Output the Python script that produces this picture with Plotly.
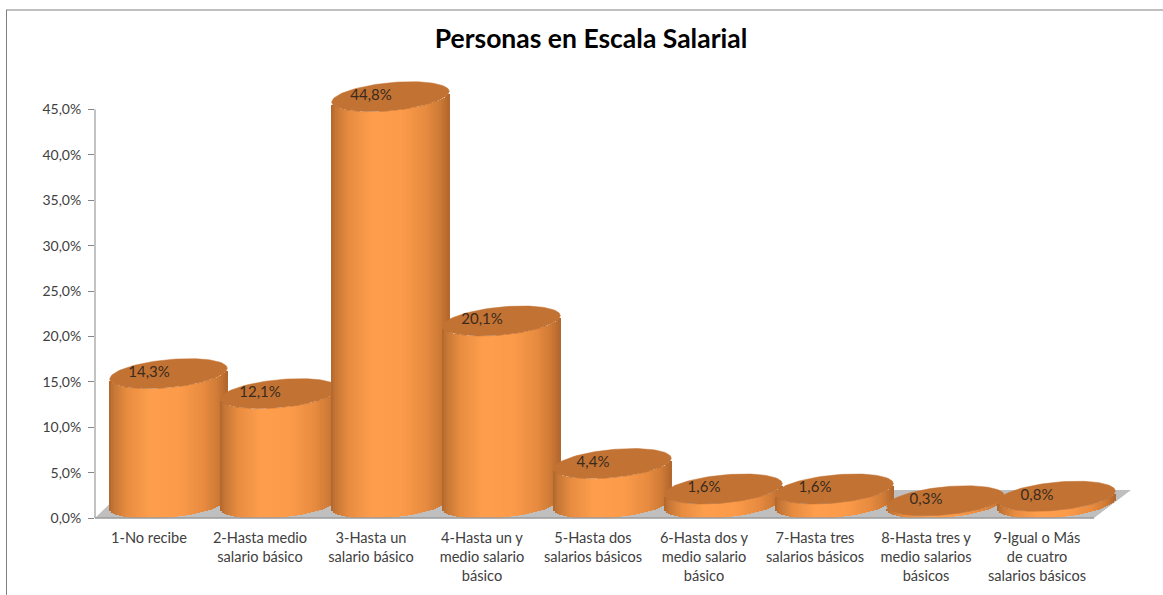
import numpy as np
import plotly.graph_objects as go

categories = [
    "1-No recibe",
    "2-Hasta medio<br>salario básico",
    "3-Hasta un<br>salario básico",
    "4-Hasta un y<br>medio salario<br>básico",
    "5-Hasta dos<br>salarios básicos",
    "6-Hasta dos y<br>medio salario<br>básico",
    "7-Hasta tres<br>salarios básicos",
    "8-Hasta tres y<br>medio salarios<br>básicos",
    "9-Igual o Más<br>de cuatro<br>salarios básicos",
]
values = [14.3, 12.1, 44.8, 20.1, 4.4, 1.6, 1.6, 0.3, 0.8]
y_ticks = [0, 5, 10, 15, 20, 25, 30, 35, 40, 45]
y_tick_labels = ["0,0%", "5,0%", "10,0%", "15,0%", "20,0%", "25,0%", "30,0%", "35,0%", "40,0%", "45,0%"]
title_text = "Personas en Escala Salarial"

W, H = 1163, 595
Y_MAX = 50.0
PX_Y = 409 / 45.0       # pixels per percent
L, R, B = 95, 1135, 518
T = B - Y_MAX * PX_Y
PX_X = 111.0            # pixels per category
FIRST_TICK = 149.0
x_range = [(L - FIRST_TICK) / PX_X, (R - FIRST_TICK) / PX_X]

DEPTH_X = 19.5 / PX_X
DEPTH_Y = 14.5 / PX_Y
A, E_B, TILT = 59.0, 14.0, np.radians(5.5)
c, s = np.cos(TILT), np.sin(TILT)
X_EXT = np.sqrt(A**2 * c**2 + E_B**2 * s**2)


def lower_edge(x):
    qa = s**2 / A**2 + c**2 / E_B**2
    qb = 2 * x * (c * s / A**2 - s * c / E_B**2)
    qc = x**2 * (c**2 / A**2 + s**2 / E_B**2) - 1
    return (-qb - np.sqrt(np.maximum(qb**2 - 4 * qa * qc, 0))) / (2 * qa)


STOPS_T = [-1.0, -0.93, -0.7, -0.3, 0.2, 0.6, 0.85, 1.0]
STOPS_R = [176, 196, 232, 255, 252, 232, 206, 178]
STOPS_G = [102, 118, 140, 159, 155, 140, 122, 102]
STOPS_B = [44, 54, 64, 77, 74, 64, 54, 44]


def shade(t):
    return "rgb(%d,%d,%d)" % (
        np.interp(t, STOPS_T, STOPS_R),
        np.interp(t, STOPS_T, STOPS_G),
        np.interp(t, STOPS_T, STOPS_B),
    )


fig = go.Figure()
N_STRIPS = 59
edges = np.linspace(-X_EXT, X_EXT, N_STRIPS + 1)
strip = edges[1] - edges[0]
mids = (edges[:-1] + edges[1:]) / 2
phi = np.linspace(0, 2 * np.pi, 121)
ex = A * np.cos(phi) * c - E_B * np.sin(phi) * s
ey = A * np.cos(phi) * s + E_B * np.sin(phi) * c

for i, v in enumerate(values):
    for m in mids:
        fig.add_trace(go.Bar(
            x=[i + DEPTH_X + m / PX_X],
            y=[v],
            base=[DEPTH_Y + lower_edge(m) / PX_Y],
            width=[strip * 1.5 / PX_X],
            marker=dict(color=shade(m / X_EXT), line=dict(width=0)),
            hoverinfo="skip",
            showlegend=False,
            zorder=i + 1,
        ))
    fig.add_trace(go.Scatter(
        x=i + DEPTH_X + ex / PX_X,
        y=v + DEPTH_Y + ey / PX_Y,
        mode="lines",
        fill="toself",
        fillcolor="#C27334",
        line=dict(color="#C27334", width=0.5),
        hoverinfo="skip",
        showlegend=False,
        zorder=i + 1,
    ))

fig.add_trace(go.Scatter(
    x=list(range(len(values))),
    y=[v + 1.65 for v in values],
    mode="text",
    text=[f"{v:.1f}%".replace(".", ",") for v in values],
    textposition="middle center",
    textfont=dict(family="Lato", size=15, color="#3a2a1c"),
    hoverinfo="skip",
    showlegend=False,
    zorder=30,
))


def px_x(p):
    return (p - FIRST_TICK) / PX_X


def px_y(p):
    return (B - p) / PX_Y


def paper_x(p):
    return (p - L) / (R - L)


def paper_y(p):
    return (B - p) / (B - T)


floor_path = "M {} {} L {} {} L {} {} L {} {} Z".format(
    px_x(95), px_y(518), px_x(1094), px_y(518), px_x(1131), px_y(490), px_x(124), px_y(490)
)
shapes = [
    dict(type="path", path=floor_path, xref="x", yref="y", fillcolor="#BFBFBF",
         line=dict(width=0), layer="below"),
    dict(type="line", xref="paper", yref="paper", x0=0, x1=paper_x(1094), y0=0, y1=0,
         line=dict(color="#9A9A9A", width=1.5), layer="above"),
    dict(type="line", xref="paper", yref="paper", x0=0, x1=0, y0=0, y1=paper_y(109),
         line=dict(color="#868686", width=1), layer="below"),
    dict(type="line", xref="paper", yref="paper", x0=paper_x(6), x1=paper_x(W),
         y0=paper_y(9.5), y1=paper_y(9.5), line=dict(color="#808080", width=1)),
    dict(type="line", xref="paper", yref="paper", x0=paper_x(6.5), x1=paper_x(6.5),
         y0=paper_y(9.5), y1=paper_y(H), line=dict(color="#808080", width=1)),
]

fig.update_layout(
    width=W, height=H,
    margin=dict(l=L, r=W - R, t=T, b=H - B, autoexpand=False),
    paper_bgcolor="white", plot_bgcolor="white",
    barmode="overlay", bargap=0, showlegend=False,
    font=dict(family="Lato", size=14, color="#404040"),
    title=dict(text="<b>" + title_text + "</b>", x=591 / W, y=1 - 39 / H, xref="container", yref="container",
               xanchor="center", yanchor="middle", font=dict(family="Lato", size=26.5, color="black")),
    shapes=shapes,
    xaxis=dict(type="linear", range=x_range, tickmode="array",
               tickvals=list(range(len(categories))), ticktext=categories,
               showgrid=False, zeroline=False, showline=False, ticks="", tickangle=0,
               ticklabelstandoff=9,
               tickfont=dict(family="Lato", size=14.6, color="#404040")),
    yaxis=dict(range=[0, Y_MAX], tickmode="array", tickvals=y_ticks, ticktext=y_tick_labels,
               showgrid=False, zeroline=False, showline=False,
               ticks="outside", ticklen=6, tickcolor="#868686", tickwidth=1, ticklabelstandoff=4,
               tickfont=dict(family="Lato", size=14, color="#404040")),
)

fig.write_html("out.html", config={"displayModeBar": False},
               post_script="document.body.style.margin='0';")
